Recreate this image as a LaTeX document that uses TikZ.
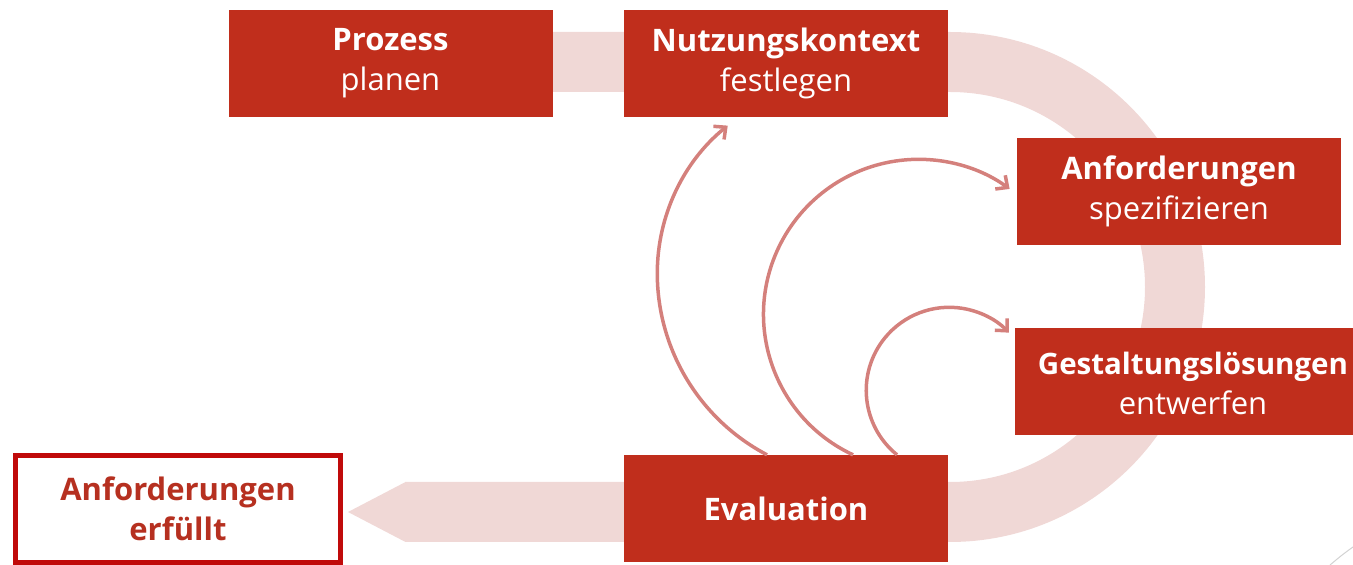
\documentclass[tikz,border=0pt]{standalone}
\usepackage{fontspec}
\setmainfont{Open Sans}
\usetikzlibrary{arrows.meta,calc}
\definecolor{boxred}{RGB}{192,46,28}
\definecolor{bandc}{RGB}{240,216,214}
\definecolor{arrc}{RGB}{212,128,124}
\definecolor{framec}{RGB}{192,10,10}
\definecolor{txtred}{RGB}{182,48,32}
\begin{document}
\begin{tikzpicture}[x=1pt,y=1pt,
 boxfont/.style={font=\fontsize{31}{40}\selectfont},
 stepbox/.style={fill=boxred, text=white, minimum width=324pt, minimum height=107pt, inner sep=0pt, align=center, boxfont},
 arr/.style={draw=arrc, line width=3.5pt, -{Straight Barb[length=9pt,width=17pt,line width=3.5pt]}}]
\useasboundingbox (0,0) rectangle (1353,565);
% background band
\draw[bandc, line width=60pt] (540,503) -- (950,503) arc[start angle=90,end angle=-90,radius=225] -- (405,53);
\fill[bandc] (405.5,83) -- (348,53) -- (405.5,23) -- cycle;
% boxes
\node[stepbox] (pp) at (390.5,501.5) {\textbf{Prozess}\\planen};
\node[stepbox] (nk) at (786,501.5) {\textbf{Nutzungskontext}\\festlegen};
\node[stepbox] (as) at (1179,373.5) {\textbf{Anforderungen}\\spezifizieren};
\node[stepbox, minimum width=345pt] (gl) at (1187.5,183.5) {};
\node[text=white, align=center, inner sep=0pt, font=\fontsize{29.5}{40}\selectfont] (glt) at (1193,181.5) {\textbf{Gestaltungslösungen}\\\fontsize{31}{40}\selectfont entwerfen};
\node[stepbox] (ev) at (786,56.5) {\textbf{Evaluation}};
\node[draw=framec, line width=5pt, fill=white, minimum width=325pt, minimum height=107pt, inner sep=0pt, text=txtred, align=center, boxfont] (af) at (178,56) {\textbf{Anforderungen}\\\textbf{erfüllt}};
% feedback arrows (from Evaluation back to the earlier steps)
\draw[arr] ([xshift=-19pt]ev.north) arc[start angle=242.3,end angle=180,radius=205] arc[start angle=180,end angle=129,radius=190];
\draw[arr] ([xshift=67pt]ev.north) arc[start angle=245,end angle=54,radius=155];
\draw[arr] ([xshift=111pt]ev.north) arc[start angle=231,end angle=44,radius=83];
% faint corner mark
\draw[gray!35, line width=1pt] (1330,0) to[out=40,in=215] (1353,18);
\end{tikzpicture}
\end{document}
